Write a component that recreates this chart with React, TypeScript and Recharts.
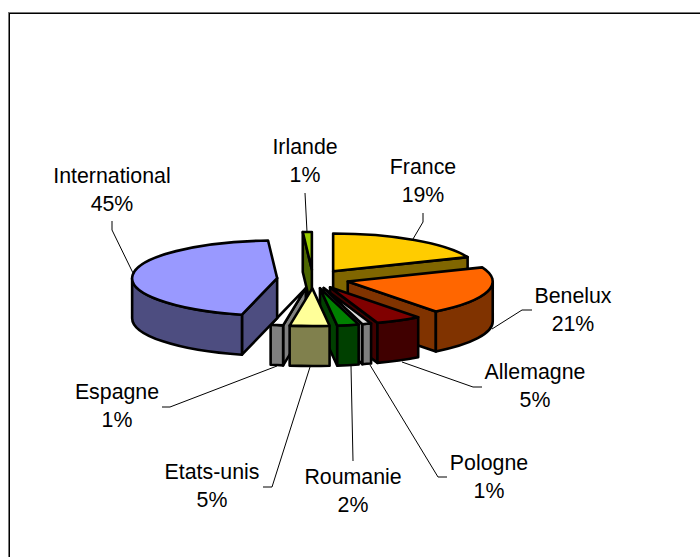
import { Pie, PieChart } from "recharts";

const NAMES = ["Irlande", "France", "Benelux", "Allemagne", "Pologne", "Roumanie", "Etats-unis", "Espagne", "International"];
// the printed percents are rounded
const VALUES = [1.0, 18.9, 20.7, 5.1, 1.0, 2.4, 4.4, 1.4, 45.1];
const PERCENTS = ["1%", "19%", "21%", "5%", "1%", "2%", "5%", "1%", "45%"];

const TOP_COLORS = ["#99cc00", "#ffcc00", "#ff6600", "#800000", "#dddddd", "#008000", "#ffff99", "#ffffff", "#9999ff"];
const SIDE_COLORS = ["#4d6600", "#806600", "#803300", "#400000", "#808080", "#004000", "#80804d", "#808080", "#4d4d80"];

// text centre and baseline of the first line, then the leader line
const LABEL_LAYOUT: Record<string, { x: number; y: number; leader: string }> = {
  Irlande: { x: 305, y: 154, leader: "305,193 307,232" },
  France: { x: 423, y: 174, leader: "423,213 423,222 413,239" },
  Benelux: { x: 573, y: 303, leader: "532,310 522,310 492,329" },
  Allemagne: { x: 535, y: 379, leader: "482,387 473,387 402,362" },
  Pologne: { x: 489, y: 470, leader: "447,477 438,477 370,365" },
  Roumanie: { x: 353, y: 484, leader: "353,461 351,366" },
  "Etats-unis": { x: 212, y: 479, leader: "263,487 272,487 310,367" },
  Espagne: { x: 117, y: 399, leader: "162,407 170,407 277,366" },
  International: { x: 112, y: 183, leader: "112,221 112,230 133,273" },
};

const CENTER_X = 313;
const CENTER_Y = 279;
const RADIUS = 145;
const SQUASH = 0.26;
const EXPLODE = 36;
const DEPTH = 40;
const LINE_GAP = 27.5;
const FRONT_SLICE = "Etats-unis";

const slices = NAMES.map((name, i) => ({
  name,
  value: VALUES[i],
  percent: PERCENTS[i],
  top: TOP_COLORS[i],
  side: SIDE_COLORS[i],
}));

const total = VALUES.reduce((sum, v) => sum + v, 0);
const startAngle = 90 + (VALUES[0] / total) * 360;

const rad = (deg: number) => (deg * Math.PI) / 180;

// Recharts only gives flat sector angles, so lay them down and extrude them here
const sector3d = (props: any) => {
  const { cx, cy, outerRadius, startAngle: a0, endAngle: a1, payload } = props;
  const mid = rad((a0 + a1) / 2);
  const ax = cx + EXPLODE * Math.cos(mid);
  const ay = cy - EXPLODE * SQUASH * Math.sin(mid);
  const rx = outerRadius;
  const ry = outerRadius * SQUASH;
  const at = (deg: number) => [ax + rx * Math.cos(rad(deg)), ay - ry * Math.sin(rad(deg))];
  const [sx, sy] = at(a0);
  const [ex, ey] = at(a1);
  const [mx, my] = at((a0 + a1) / 2);

  // clockwise from 12 o'clock, only the part between 90 and 270 faces the viewer
  const r0 = Math.max(90 - a0, 90);
  const r1 = Math.min(90 - a1, 270);
  let rim = null;
  if (r1 > r0) {
    const [px, py] = at(90 - r0);
    const [qx, qy] = at(90 - r1);
    rim = `M${px},${py} A${rx},${ry} 0 0 1 ${qx},${qy} L${qx},${qy + DEPTH} A${rx},${ry} 0 0 0 ${px},${py + DEPTH} Z`;
  }
  // a cut wall only shows when it does not hang down under the slice itself
  const wallShows = (x: number, y: number) => {
    const dx = x - ax;
    const dy = y - ay;
    return dx * ((mx - ax) * dy - (my - ay) * dx) > 0;
  };
  const wall = (x: number, y: number) => `M${ax},${ay} L${x},${y} L${x},${y + DEPTH} L${ax},${ay + DEPTH} Z`;
  const style = { stroke: "#000", strokeWidth: 2.6, strokeLinejoin: "round" as const };

  return (
    <g>
      {wallShows(sx, sy) && <path d={wall(sx, sy)} fill={payload.side} {...style} />}
      {wallShows(ex, ey) && <path d={wall(ex, ey)} fill={payload.side} {...style} />}
      {rim && <path d={rim} fill={payload.side} {...style} />}
      <path d={`M${ax},${ay} L${sx},${sy} A${rx},${ry} 0 0 1 ${ex},${ey} Z`} fill={payload.top} {...style} />
    </g>
  );
};

const backShape = (props: any) => (props.payload.name === FRONT_SLICE ? <g /> : sector3d(props));
const frontShape = (props: any) => (props.payload.name === FRONT_SLICE ? sector3d(props) : <g />);

const renderLabel = (props: any) => {
  const { payload } = props;
  const layout = LABEL_LAYOUT[payload.name];
  const font = { fontFamily: "Liberation Sans, Arial, sans-serif", fontSize: 21.33, fill: "#000", textAnchor: "middle" as const };
  return (
    <g>
      <polyline points={layout.leader} fill="none" stroke="#000" strokeWidth={1} />
      <text x={layout.x} y={layout.y} {...font}>
        {payload.name}
      </text>
      <text x={layout.x} y={layout.y + LINE_GAP} {...font}>
        {payload.percent}
      </text>
    </g>
  );
};

export default function App() {
  return (
    <div style={{ position: "absolute", left: 0, top: 0, width: 700, height: 557, overflow: "hidden", background: "#fff" }}>
      <div style={{ position: "absolute", left: 8, top: 12, right: 0, bottom: 0, borderTop: "1px solid #777", borderLeft: "1px solid #777" }}>
        <div style={{ position: "absolute", left: 0, top: 0, right: 0, bottom: 0, borderTop: "1px solid #000", borderLeft: "1px solid #000" }} />
      </div>
      <div style={{ position: "absolute", left: 0, top: 0 }}>
        <PieChart width={700} height={557} margin={{ top: 0, right: 0, bottom: 0, left: 0 }}>
          <Pie
            data={slices}
            dataKey="value"
            nameKey="name"
            cx={CENTER_X}
            cy={CENTER_Y}
            outerRadius={RADIUS}
            startAngle={startAngle}
            endAngle={startAngle - 360}
            shape={backShape}
            label={renderLabel}
            labelLine={false}
            isAnimationActive={false}
          />
          <Pie
            data={slices}
            dataKey="value"
            nameKey="name"
            cx={CENTER_X}
            cy={CENTER_Y}
            outerRadius={RADIUS}
            startAngle={startAngle}
            endAngle={startAngle - 360}
            shape={frontShape}
            isAnimationActive={false}
          />
        </PieChart>
      </div>
    </div>
  );
}
